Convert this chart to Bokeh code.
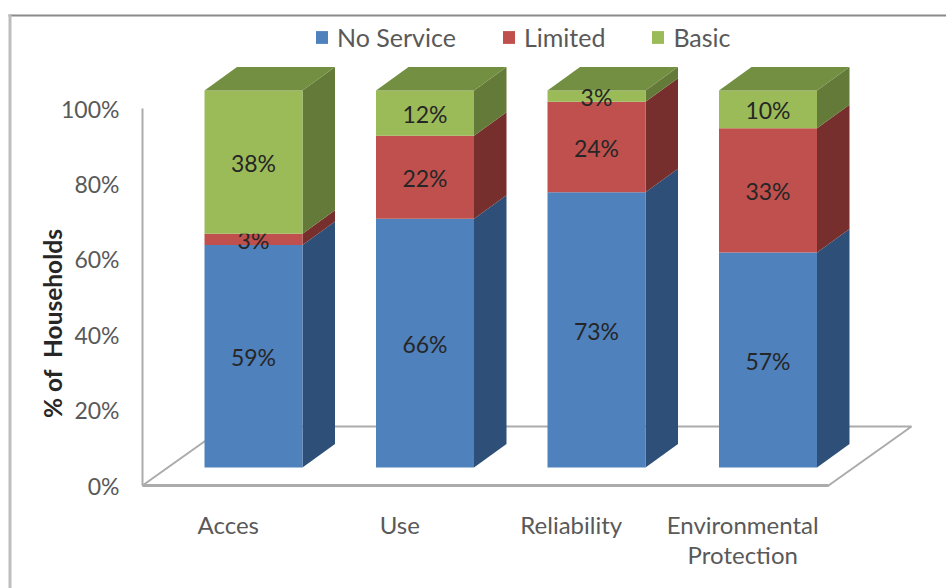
from bokeh.embed import file_html
from bokeh.models import BoxAnnotation, FixedTicker, Label, Legend, LegendItem, LinearAxis, Range1d
from bokeh.plotting import figure
from bokeh.resources import INLINE
from bokeh.core.properties import value
import numpy as np

# Household service levels, percent of households
categories = ["Acces", "Use", "Reliability", "Environmental\nProtection"]
series_names = ["No Service", "Limited", "Basic"]
no_service = [59, 66, 73, 57]
limited = [3, 22, 24, 33]
basic = [38, 12, 3, 10]
y_ticks = [0, 20, 40, 60, 80, 100]

front_colors = ["#4F81BD", "#C0504D", "#9BBB59"]
side_colors = ["#2E5078", "#772F2D", "#647A38"]
top_color = "#738F41"
axis_color = "#ABABAB"
font = "Lato"

W, H = 946, 588
ORIGIN_X, ORIGIN_Y = 142, 485     # pixel position of the axes' crossing point
X_UNIT, Y_UNIT = 171.5, 3.77      # pixels per category slot / per percent


def px_x(px):
    return (px - ORIGIN_X) / X_UNIT


def px_y(py):
    return (ORIGIN_Y - py) / Y_UNIT


# Oblique projection of the columns
BAR_START, BAR_WIDTH = 62 / X_UNIT, 98 / X_UNIT
DEPTH_X, DEPTH_Y = 32.5 / X_UNIT, 23.5 / Y_UNIT
LIFT = 18 / Y_UNIT
FLOOR_X, FLOOR_Y = 83 / X_UNIT, 59 / Y_UNIT

p = figure(
    width=W, height=H, output_backend="svg", toolbar_location=None,
    x_range=Range1d(px_x(0), px_x(W)),
    y_range=Range1d(px_y(H), px_y(0)),
    min_border=0,
    x_axis_type=None, y_axis_type=None,
)
p.grid.visible = False
p.outline_line_color = None
p.background_fill_color = "white"
p.border_fill_color = "white"

# Floor of the 3-D chart
n = len(categories)
p.line([FLOOR_X, FLOOR_X + n, n, 0, FLOOR_X], [FLOOR_Y, FLOOR_Y, 0, 0, FLOOR_Y],
       line_color=axis_color, line_width=2)

# Columns, one stacked block at a time
stack = np.array([no_service, limited, basic], dtype=float)
tops = stack.cumsum(axis=0)
bottoms = tops - stack
legend_items = []
for s, name in enumerate(series_names):
    lefts = np.arange(n) + BAR_START
    rights = lefts + BAR_WIDTH
    b = bottoms[s] + LIFT
    t = tops[s] + LIFT

    p.patches(
        [[r, r + DEPTH_X, r + DEPTH_X, r] for r in rights],
        [[bb, bb + DEPTH_Y, tt + DEPTH_Y, tt] for bb, tt in zip(b, t)],
        fill_color=side_colors[s], line_color=None,
    )
    front = p.quad(left=lefts, right=rights, bottom=b, top=t,
                   fill_color=front_colors[s], line_color=None)
    legend_items.append(LegendItem(label=name, renderers=[front]))

    if s == len(series_names) - 1:
        p.patches(
            [[l, r, r + DEPTH_X, l + DEPTH_X] for l, r in zip(lefts, rights)],
            [[tt, tt, tt + DEPTH_Y, tt + DEPTH_Y] for tt in t],
            fill_color=top_color, line_color=None,
        )

    p.text(
        x=(lefts + rights) / 2, y=(b + t) / 2,
        text=[f"{v:.0f}%" for v in stack[s]],
        text_align="center", text_baseline="middle", y_offset=1,
        text_font=value(font), text_font_size="23px", text_color="#262626",
    )

# Axes sit inside the full-window frame, pinned to the origin
left_axis = LinearAxis(
    fixed_location=0,
    ticker=FixedTicker(ticks=y_ticks), bounds=(0, 100),
    major_label_overrides={t: f"{t}%" for t in y_ticks},
    major_tick_line_color=None, minor_tick_line_color=None,
    axis_line_color=axis_color, axis_line_width=2,
    major_label_standoff=17,
    major_label_text_font=font, major_label_text_font_size="23px",
    major_label_text_color="#595959",
)
p.add_layout(left_axis, "left")

bottom_axis = LinearAxis(
    fixed_location=0,
    ticker=FixedTicker(ticks=[i + 0.5 for i in range(n)]), bounds=(0, n),
    major_label_overrides={i + 0.5: c for i, c in enumerate(categories)},
    major_tick_line_color=None, minor_tick_line_color=None,
    axis_line_color=axis_color, axis_line_width=3,
    major_label_standoff=18,
    major_label_text_font=font, major_label_text_font_size="24px",
    major_label_text_line_height=1.05,
    major_label_text_color="#595959",
)
p.add_layout(bottom_axis, "below")

p.add_layout(Label(
    x=px_x(52), y=px_y(323), text="% of\u00a0 Households",
    angle=np.pi / 2, text_align="center", text_baseline="middle",
    text_font=font, text_font_size="24.5px", text_font_style="bold", text_color="#262626",
))

legend = Legend(
    items=legend_items, orientation="horizontal", location=(314, H - 52),
    border_line_color=None, background_fill_alpha=0, padding=0, margin=0,
    glyph_width=15, glyph_height=16, label_standoff=8, spacing=45,
    label_text_font=font, label_text_font_size="25px", label_text_color="#595959",
)
p.add_layout(legend, "center")

# Chart area frame, open to the right and at the bottom
p.add_layout(BoxAnnotation(left=px_x(8), right=px_x(W), top=px_y(14), bottom=px_y(16),
                           fill_color="#8A8A8A", line_color=None, fill_alpha=1))
p.add_layout(BoxAnnotation(left=px_x(8), right=px_x(11), top=px_y(14), bottom=px_y(H),
                           fill_color="#BDBDBD", line_color=None, fill_alpha=1))

open("out.html", "w").write(file_html(p, INLINE))
